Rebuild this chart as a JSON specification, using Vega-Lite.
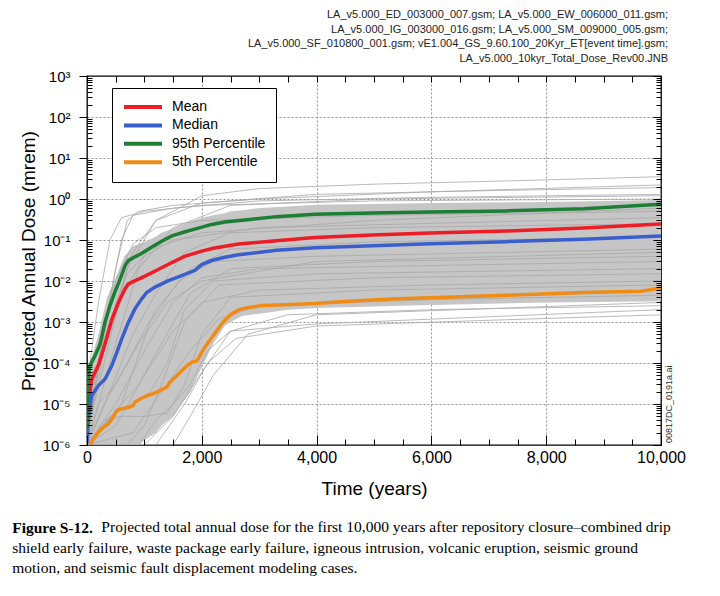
{
  "$schema": "https://vega.github.io/schema/vega-lite/v6.json",
  "background": "#ffffff",
  "padding": {"left": 12, "top": 8, "right": 10, "bottom": 5},
  "title": {
    "text": "Figure S-12.",
    "orient": "bottom",
    "anchor": "start",
    "frame": "bounds",
    "font": "Liberation Serif",
    "fontSize": 15.5,
    "fontWeight": "bold",
    "color": "#000",
    "offset": 22,
    "dx": -7,
    "subtitle": [
      "\u200b\u00a0\u00a0\u00a0\u00a0\u00a0\u00a0\u00a0\u00a0\u00a0\u00a0\u00a0\u00a0\u00a0\u00a0\u00a0\u00a0\u00a0\u00a0\u00a0\u00a0\u00a0\u00a0\u00a0Projected total annual dose for the first 10,000 years after repository closure–combined drip",
      "shield early failure, waste package early failure, igneous intrusion, volcanic eruption, seismic ground",
      "motion, and seismic fault displacement modeling cases."
    ],
    "subtitleFont": "Liberation Serif",
    "subtitleFontSize": 15.5,
    "subtitleColor": "#000",
    "subtitleFontWeight": "normal",
    "subtitleLineHeight": 20.5,
    "subtitlePadding": -16
  },
  "datasets": {
    "stats": [
      {"s":"Mean","t":0,"v":5.01e-6},{"s":"Mean","t":25,"v":1e-5},{"s":"Mean","t":80,"v":3.98e-5},{"s":"Mean","t":200,"v":8.91e-5},{"s":"Mean","t":310,"v":2.82e-4},{"s":"Mean","t":430,"v":1.12e-3},{"s":"Mean","t":550,"v":3.02e-3},{"s":"Mean","t":660,"v":6.31e-3},{"s":"Mean","t":720,"v":8.51e-3},{"s":"Mean","t":840,"v":1.02e-2},{"s":"Mean","t":1010,"v":1.32e-2},{"s":"Mean","t":1240,"v":1.91e-2},{"s":"Mean","t":1480,"v":2.82e-2},{"s":"Mean","t":1700,"v":3.98e-2},{"s":"Mean","t":2000,"v":5.37e-2},{"s":"Mean","t":2200,"v":6.31e-2},{"s":"Mean","t":2640,"v":7.94e-2},{"s":"Mean","t":3300,"v":9.55e-2},{"s":"Mean","t":3970,"v":0.1148},{"s":"Mean","t":4970,"v":0.1318},{"s":"Mean","t":5980,"v":0.1479},{"s":"Mean","t":7310,"v":0.166},{"s":"Mean","t":8650,"v":0.195},{"s":"Mean","t":10000,"v":0.2455},
      {"s":"Median","t":0,"v":1.12e-6},{"s":"Median","t":23,"v":4.27e-6},{"s":"Median","t":80,"v":1.585e-5},{"s":"Median","t":200,"v":2.82e-5},{"s":"Median","t":315,"v":4.07e-5},{"s":"Median","t":430,"v":8.51e-5},{"s":"Median","t":520,"v":1.82e-4},{"s":"Median","t":605,"v":3.89e-4},{"s":"Median","t":720,"v":9.77e-4},{"s":"Median","t":835,"v":2.09e-3},{"s":"Median","t":950,"v":3.63e-3},{"s":"Median","t":1040,"v":5.25e-3},{"s":"Median","t":1185,"v":7.08e-3},{"s":"Median","t":1420,"v":1.02e-2},{"s":"Median","t":1650,"v":1.35e-2},{"s":"Median","t":1880,"v":1.82e-2},{"s":"Median","t":2000,"v":2.51e-2},{"s":"Median","t":2170,"v":3.16e-2},{"s":"Median","t":2400,"v":3.8e-2},{"s":"Median","t":2640,"v":4.37e-2},{"s":"Median","t":3300,"v":5.62e-2},{"s":"Median","t":3970,"v":6.46e-2},{"s":"Median","t":4970,"v":7.24e-2},{"s":"Median","t":5980,"v":8.13e-2},{"s":"Median","t":7310,"v":9.12e-2},{"s":"Median","t":8650,"v":0.1047},{"s":"Median","t":10000,"v":0.1259},
      {"s":"95th Percentile","t":0,"v":2.51e-6},{"s":"95th Percentile","t":12,"v":7.94e-6},{"s":"95th Percentile","t":25,"v":3.98e-5},{"s":"95th Percentile","t":50,"v":8.51e-5},{"s":"95th Percentile","t":140,"v":1.51e-4},{"s":"95th Percentile","t":225,"v":2.82e-4},{"s":"95th Percentile","t":315,"v":1e-3},{"s":"95th Percentile","t":400,"v":2.51e-3},{"s":"95th Percentile","t":490,"v":5.62e-3},{"s":"95th Percentile","t":550,"v":8.91e-3},{"s":"95th Percentile","t":605,"v":1.41e-2},{"s":"95th Percentile","t":665,"v":2.4e-2},{"s":"95th Percentile","t":720,"v":3.16e-2},{"s":"95th Percentile","t":810,"v":3.72e-2},{"s":"95th Percentile","t":950,"v":4.68e-2},{"s":"95th Percentile","t":1130,"v":6.76e-2},{"s":"95th Percentile","t":1300,"v":9.33e-2},{"s":"95th Percentile","t":1480,"v":0.1259},{"s":"95th Percentile","t":1710,"v":0.1585},{"s":"95th Percentile","t":1940,"v":0.195},{"s":"95th Percentile","t":2170,"v":0.24},{"s":"95th Percentile","t":2400,"v":0.2754},{"s":"95th Percentile","t":2840,"v":0.3162},{"s":"95th Percentile","t":3300,"v":0.3715},{"s":"95th Percentile","t":3970,"v":0.4266},{"s":"95th Percentile","t":4970,"v":0.4571},{"s":"95th Percentile","t":5980,"v":0.4786},{"s":"95th Percentile","t":7310,"v":0.5129},{"s":"95th Percentile","t":8650,"v":0.5754},{"s":"95th Percentile","t":10000,"v":0.7413},
      {"s":"5th Percentile","t":50,"v":1e-6},{"s":"5th Percentile","t":110,"v":1.41e-6},{"s":"5th Percentile","t":200,"v":2.04e-6},{"s":"5th Percentile","t":285,"v":2.69e-6},{"s":"5th Percentile","t":370,"v":3.24e-6},{"s":"5th Percentile","t":460,"v":4.79e-6},{"s":"5th Percentile","t":517,"v":6.92e-6},{"s":"5th Percentile","t":605,"v":7.59e-6},{"s":"5th Percentile","t":720,"v":8.32e-6},{"s":"5th Percentile","t":805,"v":9.12e-6},{"s":"5th Percentile","t":835,"v":1.1e-5},{"s":"5th Percentile","t":925,"v":1.32e-5},{"s":"5th Percentile","t":1040,"v":1.585e-5},{"s":"5th Percentile","t":1130,"v":1.74e-5},{"s":"5th Percentile","t":1215,"v":1.95e-5},{"s":"5th Percentile","t":1330,"v":2.34e-5},{"s":"5th Percentile","t":1390,"v":2.57e-5},{"s":"5th Percentile","t":1445,"v":3.39e-5},{"s":"5th Percentile","t":1535,"v":4.47e-5},{"s":"5th Percentile","t":1650,"v":6.46e-5},{"s":"5th Percentile","t":1740,"v":8.51e-5},{"s":"5th Percentile","t":1825,"v":1.05e-4},{"s":"5th Percentile","t":1910,"v":1.12e-4},{"s":"5th Percentile","t":1970,"v":1.51e-4},{"s":"5th Percentile","t":2030,"v":2.19e-4},{"s":"5th Percentile","t":2110,"v":3.16e-4},{"s":"5th Percentile","t":2200,"v":4.68e-4},{"s":"5th Percentile","t":2290,"v":7.08e-4},{"s":"5th Percentile","t":2375,"v":1e-3},{"s":"5th Percentile","t":2500,"v":1.51e-3},{"s":"5th Percentile","t":2650,"v":2e-3},{"s":"5th Percentile","t":2800,"v":2.24e-3},{"s":"5th Percentile","t":3040,"v":2.51e-3},{"s":"5th Percentile","t":3440,"v":2.63e-3},{"s":"5th Percentile","t":3970,"v":2.82e-3},{"s":"5th Percentile","t":4640,"v":3.24e-3},{"s":"5th Percentile","t":5300,"v":3.63e-3},{"s":"5th Percentile","t":5980,"v":3.89e-3},{"s":"5th Percentile","t":7310,"v":4.47e-3},{"s":"5th Percentile","t":8650,"v":5.25e-3},{"s":"5th Percentile","t":9650,"v":5.62e-3},{"s":"5th Percentile","t":10000,"v":6.76e-3}
    ],
    "band": [
      {"t":0,"lo":1e-6,"hi":1e-5},{"t":50,"lo":1e-6,"hi":1e-4},{"t":200,"lo":1e-6,"hi":5e-4},{"t":350,"lo":1e-6,"hi":4e-3},{"t":500,"lo":1e-6,"hi":1.2e-2},{"t":650,"lo":1e-6,"hi":4e-2},{"t":800,"lo":1e-6,"hi":7e-2},{"t":900,"lo":1e-6,"hi":8e-2},{"t":1000,"lo":1.3e-6,"hi":9e-2},{"t":1200,"lo":2e-6,"hi":0.12},{"t":1300,"lo":3e-6,"hi":0.15},{"t":1500,"lo":5e-6,"hi":0.19},{"t":1600,"lo":8e-6,"hi":0.22},{"t":1800,"lo":2e-5,"hi":0.28},{"t":2000,"lo":8e-5,"hi":0.35},{"t":2200,"lo":3e-4,"hi":0.4},{"t":2400,"lo":8e-4,"hi":0.45},{"t":2500,"lo":1e-3,"hi":0.5},{"t":2700,"lo":1.4e-3,"hi":0.53},{"t":3000,"lo":1.6e-3,"hi":0.6},{"t":3500,"lo":2e-3,"hi":0.66},{"t":4000,"lo":2.2e-3,"hi":0.72},{"t":5000,"lo":2.4e-3,"hi":0.76},{"t":6000,"lo":2.6e-3,"hi":0.8},{"t":7000,"lo":2.8e-3,"hi":0.82},{"t":8000,"lo":3e-3,"hi":0.85},{"t":10000,"lo":3.2e-3,"hi":0.95}
    ],
    "runs": [
      {"id":"A","t":0,"v":1e-6},{"id":"A","t":150,"v":2e-5},{"id":"A","t":400,"v":1e-3},{"id":"A","t":800,"v":0.05},{"id":"A","t":1200,"v":0.3},{"id":"A","t":2000,"v":1.2},{"id":"A","t":3000,"v":1.8},{"id":"A","t":5000,"v":2.3},{"id":"A","t":7500,"v":2.8},{"id":"A","t":10000,"v":3.5},
      {"id":"B","t":0,"v":1e-6},{"id":"B","t":200,"v":1e-4},{"id":"B","t":500,"v":0.02},{"id":"B","t":700,"v":0.3},{"id":"B","t":900,"v":0.5},{"id":"B","t":1500,"v":0.7},{"id":"B","t":3000,"v":1.0},{"id":"B","t":6000,"v":1.5},{"id":"B","t":10000,"v":2.2},
      {"id":"C","t":0,"v":2e-6},{"id":"C","t":300,"v":1e-4},{"id":"C","t":700,"v":0.02},{"id":"C","t":1200,"v":0.3},{"id":"C","t":2000,"v":0.8},{"id":"C","t":4000,"v":1.3},{"id":"C","t":7000,"v":1.6},{"id":"C","t":10000,"v":1.9},
      {"id":"D","t":0,"v":1e-6},{"id":"D","t":250,"v":3e-4},{"id":"D","t":600,"v":0.1},{"id":"D","t":800,"v":0.4},{"id":"D","t":1500,"v":0.6},{"id":"D","t":3000,"v":0.9},{"id":"D","t":6000,"v":1.1},{"id":"D","t":10000,"v":1.3},
      {"id":"E","t":0,"v":1e-6},{"id":"E","t":400,"v":1e-4},{"id":"E","t":900,"v":0.02},{"id":"E","t":1500,"v":0.2},{"id":"E","t":2500,"v":0.7},{"id":"E","t":5000,"v":1.0},{"id":"E","t":10000,"v":1.2},
      {"id":"F","t":0,"v":1e-6},{"id":"F","t":600,"v":1e-5},{"id":"F","t":1100,"v":1e-3},{"id":"F","t":1600,"v":0.01},{"id":"F","t":2200,"v":0.03},{"id":"F","t":4000,"v":0.04},{"id":"F","t":10000,"v":0.06},
      {"id":"G","t":0,"v":1e-6},{"id":"G","t":1200,"v":1e-6},{"id":"G","t":1700,"v":1e-5},{"id":"G","t":2100,"v":1e-4},{"id":"G","t":2600,"v":4e-4},{"id":"G","t":4000,"v":8e-4},{"id":"G","t":7000,"v":1.1e-3},{"id":"G","t":10000,"v":1.5e-3},
      {"id":"H","t":0,"v":1e-6},{"id":"H","t":1000,"v":1e-6},{"id":"H","t":1500,"v":5e-6},{"id":"H","t":2000,"v":6e-5},{"id":"H","t":2500,"v":6e-4},{"id":"H","t":3500,"v":1.5e-3},{"id":"H","t":6000,"v":2e-3},{"id":"H","t":10000,"v":2.5e-3},
      {"id":"I","t":0,"v":1e-6},{"id":"I","t":800,"v":2e-6},{"id":"I","t":1300,"v":2e-5},{"id":"I","t":1800,"v":2e-4},{"id":"I","t":2300,"v":1.2e-3},{"id":"I","t":3000,"v":2.5e-3},{"id":"I","t":6000,"v":3.5e-3},{"id":"I","t":10000,"v":4.5e-3},
      {"id":"J","t":0,"v":1e-6},{"id":"J","t":500,"v":3e-6},{"id":"J","t":1000,"v":5e-5},{"id":"J","t":1500,"v":6e-4},{"id":"J","t":2000,"v":3e-3},{"id":"J","t":3000,"v":6e-3},{"id":"J","t":6000,"v":8e-3},{"id":"J","t":10000,"v":1e-2},
      {"id":"K","t":0,"v":1e-6},{"id":"K","t":1500,"v":1e-6},{"id":"K","t":1800,"v":5e-6},{"id":"K","t":2200,"v":5e-5},{"id":"K","t":2800,"v":5e-4},{"id":"K","t":4000,"v":1.5e-3},{"id":"K","t":10000,"v":3e-3},
      {"id":"L","t":0,"v":3e-6},{"id":"L","t":100,"v":3e-5},{"id":"L","t":300,"v":2e-4},{"id":"L","t":600,"v":4e-3},{"id":"L","t":1000,"v":0.04},{"id":"L","t":1500,"v":0.1},{"id":"L","t":3000,"v":0.2},{"id":"L","t":10000,"v":0.35},
      {"id":"M","t":0,"v":1e-6},{"id":"M","t":300,"v":1e-5},{"id":"M","t":700,"v":1e-4},{"id":"M","t":1200,"v":2e-3},{"id":"M","t":1800,"v":0.02},{"id":"M","t":2500,"v":0.06},{"id":"M","t":5000,"v":0.09},{"id":"M","t":10000,"v":0.12},
      {"id":"N","t":0,"v":1e-6},{"id":"N","t":200,"v":2e-6},{"id":"N","t":600,"v":1e-5},{"id":"N","t":900,"v":3e-5},{"id":"N","t":1300,"v":3e-4},{"id":"N","t":1800,"v":5e-3},{"id":"N","t":2500,"v":0.02},{"id":"N","t":5000,"v":0.03},{"id":"N","t":10000,"v":0.04},
      {"id":"O","t":0,"v":1e-6},{"id":"O","t":400,"v":5e-6},{"id":"O","t":800,"v":1e-5},{"id":"O","t":1100,"v":2e-5},{"id":"O","t":1400,"v":1e-4},{"id":"O","t":1700,"v":2e-3},{"id":"O","t":2200,"v":0.01},{"id":"O","t":4000,"v":0.015},{"id":"O","t":10000,"v":0.02},
      {"id":"P","t":0,"v":1e-6},{"id":"P","t":700,"v":1e-6},{"id":"P","t":1000,"v":3e-6},{"id":"P","t":1300,"v":3e-5},{"id":"P","t":1700,"v":1e-3},{"id":"P","t":2300,"v":8e-3},{"id":"P","t":5000,"v":0.012},{"id":"P","t":10000,"v":0.015},
      {"id":"Q","t":0,"v":5e-6},{"id":"Q","t":50,"v":1e-4},{"id":"Q","t":200,"v":3e-3},{"id":"Q","t":400,"v":0.1},{"id":"Q","t":600,"v":0.35},{"id":"Q","t":1000,"v":0.5},{"id":"Q","t":2000,"v":0.7},{"id":"Q","t":5000,"v":0.9},{"id":"Q","t":10000,"v":1.0},
      {"id":"R","t":0,"v":1e-6},{"id":"R","t":100,"v":1e-5},{"id":"R","t":300,"v":5e-4},{"id":"R","t":500,"v":0.01},{"id":"R","t":800,"v":0.08},{"id":"R","t":1200,"v":0.2},{"id":"R","t":2000,"v":0.3},{"id":"R","t":5000,"v":0.4},{"id":"R","t":10000,"v":0.5},
      {"id":"S","t":0,"v":1e-6},{"id":"S","t":400,"v":2e-5},{"id":"S","t":800,"v":5e-4},{"id":"S","t":1200,"v":5e-3},{"id":"S","t":1700,"v":0.05},{"id":"S","t":2500,"v":0.15},{"id":"S","t":5000,"v":0.2},{"id":"S","t":10000,"v":0.25},
      {"id":"T","t":0,"v":1e-6},{"id":"T","t":900,"v":1e-6},{"id":"T","t":1200,"v":4e-6},{"id":"T","t":1500,"v":1e-5},{"id":"T","t":1800,"v":3e-5},{"id":"T","t":2100,"v":2e-4},{"id":"T","t":2500,"v":6e-4},{"id":"T","t":4000,"v":9e-4},{"id":"T","t":10000,"v":2e-3},
      {"id":"U","t":0,"v":1e-6},{"id":"U","t":300,"v":4e-6},{"id":"U","t":600,"v":5e-6},{"id":"U","t":1000,"v":5e-6},{"id":"U","t":1400,"v":6e-6},{"id":"U","t":1700,"v":3e-5},{"id":"U","t":2000,"v":5e-4},{"id":"U","t":2500,"v":4e-3},{"id":"U","t":5000,"v":6e-3},{"id":"U","t":10000,"v":8e-3},
      {"id":"V","t":0,"v":1e-6},{"id":"V","t":200,"v":1e-5},{"id":"V","t":500,"v":3e-5},{"id":"V","t":900,"v":3e-4},{"id":"V","t":1400,"v":3e-3},{"id":"V","t":2000,"v":0.01},{"id":"V","t":4000,"v":0.03},{"id":"V","t":10000,"v":0.05},
      {"id":"W","t":0,"v":2e-6},{"id":"W","t":150,"v":5e-5},{"id":"W","t":400,"v":1e-3},{"id":"W","t":700,"v":0.015},{"id":"W","t":1100,"v":0.06},{"id":"W","t":2000,"v":0.15},{"id":"W","t":5000,"v":0.3},{"id":"W","t":10000,"v":0.6},
      {"id":"X","t":0,"v":1e-6},{"id":"X","t":500,"v":1e-5},{"id":"X","t":1000,"v":2e-4},{"id":"X","t":1500,"v":3e-3},{"id":"X","t":2000,"v":0.012},{"id":"X","t":3000,"v":0.02},{"id":"X","t":10000,"v":0.03}
    ],
    "tag": [{"t":10000,"v":1e-6,"label":"00817DC_0191a.ai"}]
  },
  "vconcat": [
    {
      "width": 574,
      "height": 369,
      "title": {
        "text": [
          "LA_v5.000_ED_003000_007.gsm; LA_v5.000_EW_006000_011.gsm;",
          "LA_v5.000_IG_003000_016.gsm; LA_v5.000_SM_009000_005.gsm;",
          "LA_v5.000_SF_010800_001.gsm; vE1.004_GS_9.60.100_20Kyr_ET[event time].gsm;",
          "LA_v5.000_10kyr_Total_Dose_Rev00.JNB"
        ],
        "anchor": "end",
        "frame": "group",
        "font": "Liberation Sans",
        "fontSize": 11,
        "fontWeight": "normal",
        "color": "#222",
        "lineHeight": 14.6,
        "offset": 5,
        "dx": 7
      },
      "resolve": {"axis": {"x": "independent", "y": "independent"}},
      "layer": [
        {
          "data": {"name": "band"},
          "mark": {"type": "area", "color": "#c6c6c6", "clip": true},
          "encoding": {
            "x": {"field": "t", "type": "quantitative", "scale": {"domain": [0, 10000], "nice": false},
              "axis": {"orient": "bottom", "values": [2000, 4000, 6000, 8000], "grid": true, "gridColor": "#777", "gridDash": [2, 2], "gridWidth": 0.8, "domain": false, "ticks": false, "labels": false, "title": null, "maxExtent": 0, "minExtent": 0, "zindex": 0}},
            "y": {"field": "lo", "type": "quantitative", "scale": {"type": "log", "domain": [1e-6, 1000], "nice": false},
              "axis": {"orient": "left", "values": [1e-5, 1e-4, 1e-3, 1e-2, 0.1, 1, 10, 100], "grid": true, "gridColor": "#777", "gridDash": [2, 2], "gridWidth": 0.8, "domain": false, "ticks": false, "labels": false, "title": null, "maxExtent": 0, "minExtent": 0, "zindex": 0}},
            "y2": {"field": "hi"}
          }
        },
        {
          "data": {"name": "runs"},
          "mark": {"type": "line", "color": "#a8a8a8", "strokeWidth": 0.8, "clip": true},
          "encoding": {
            "x": {"field": "t", "type": "quantitative",
              "axis": {"orient": "bottom", "values": [0,500,1000,1500,2000,2500,3000,3500,4000,4500,5000,5500,6000,6500,7000,7500,8000,8500,9000,9500,10000],
                "grid": false, "domain": false,
                "labelExpr": "datum.value % 2000 == 0 ? format(datum.value, ',') : ''",
                "tickSize": {"condition": {"test": "datum.value % 2000 == 0", "value": -10}, "value": -6},
                "tickColor": "#000", "tickWidth": 1,
                "labelFont": "Liberation Sans", "labelFontSize": 16, "labelColor": "#000", "labelPadding": 14,
                "labelFlush": false, "labelOverlap": false, "labelBound": false,
                "title": "Time (years)", "titleFont": "Liberation Sans", "titleFontSize": 19, "titleFontWeight": "normal", "titleColor": "#000", "titlePadding": 10,
                "zindex": 1}},
            "y": {"field": "v", "type": "quantitative",
              "axis": {"orient": "left",
                "values": [1e-6,2e-6,3e-6,4e-6,5e-6,6e-6,7e-6,8e-6,9e-6,1e-5,2e-5,3e-5,4e-5,5e-5,6e-5,7e-5,8e-5,9e-5,1e-4,2e-4,3e-4,4e-4,5e-4,6e-4,7e-4,8e-4,9e-4,1e-3,2e-3,3e-3,4e-3,5e-3,6e-3,7e-3,8e-3,9e-3,0.01,0.02,0.03,0.04,0.05,0.06,0.07,0.08,0.09,0.1,0.2,0.3,0.4,0.5,0.6,0.7,0.8,0.9,1,2,3,4,5,6,7,8,9,10,20,30,40,50,60,70,80,90,100,200,300,400,500,600,700,800,900,1000],
                "grid": false, "domain": false,
                "labelExpr": "abs(log(datum.value)/LN10 - round(log(datum.value)/LN10)) < 0.01 ? '10' + ['⁻⁶','⁻⁵','⁻⁴','⁻³','⁻²','⁻¹','⁰','¹','²','³'][round(log(datum.value)/LN10)+6] : ''",
                "tickSize": {"condition": {"test": "abs(log(datum.value)/LN10 - round(log(datum.value)/LN10)) < 0.01", "value": 8}, "value": -5},
                "tickColor": "#000", "tickWidth": 1,
                "labelFont": "Liberation Sans", "labelFontSize": 15, "labelColor": "#000", "labelPadding": 9,
                "labelOverlap": false, "labelBound": false, "labelFlush": false,
                "title": "Projected Annual Dose (mrem)", "titleFont": "Liberation Sans", "titleFontSize": 19, "titleFontWeight": "normal", "titleColor": "#000", "titlePadding": 3,
                "zindex": 1}},
            "detail": {"field": "id"}
          }
        },
        {
          "data": {"name": "stats"},
          "mark": {"type": "line", "strokeWidth": 3.5, "clip": true},
          "encoding": {
            "x": {"field": "t", "type": "quantitative",
              "axis": {"orient": "top", "values": [0,500,1000,1500,2000,2500,3000,3500,4000,4500,5000,5500,6000,6500,7000,7500,8000,8500,9000,9500,10000],
                "labels": false, "domain": false, "grid": false, "title": null,
                "tickSize": -6, "tickColor": "#000", "tickWidth": 1, "zindex": 1}},
            "y": {"field": "v", "type": "quantitative",
              "axis": {"orient": "right",
                "values": [1e-6,2e-6,3e-6,4e-6,5e-6,6e-6,7e-6,8e-6,9e-6,1e-5,2e-5,3e-5,4e-5,5e-5,6e-5,7e-5,8e-5,9e-5,1e-4,2e-4,3e-4,4e-4,5e-4,6e-4,7e-4,8e-4,9e-4,1e-3,2e-3,3e-3,4e-3,5e-3,6e-3,7e-3,8e-3,9e-3,0.01,0.02,0.03,0.04,0.05,0.06,0.07,0.08,0.09,0.1,0.2,0.3,0.4,0.5,0.6,0.7,0.8,0.9,1,2,3,4,5,6,7,8,9,10,20,30,40,50,60,70,80,90,100,200,300,400,500,600,700,800,900,1000],
                "labels": false, "domain": false, "grid": false, "title": null,
                "tickSize": {"condition": {"test": "abs(log(datum.value)/LN10 - round(log(datum.value)/LN10)) < 0.01", "value": -8}, "value": -5},
                "tickColor": "#000", "tickWidth": 1, "zindex": 1}},
            "color": {"field": "s", "type": "nominal",
              "scale": {"domain": ["Mean", "Median", "95th Percentile", "5th Percentile"], "range": ["#ee1c25", "#3a5fcd", "#1d7f35", "#f08c14"]},
              "legend": {"orient": "none", "legendX": 25, "legendY": 12, "title": null, "symbolType": "stroke", "symbolSize": 1444, "symbolStrokeWidth": 4, "clipHeight": 18, "rowPadding": 0.4, "labelFont": "Liberation Sans", "labelFontSize": 14, "labelColor": "#000", "labelOffset": 8, "labelLimit": 300, "padding": 10, "strokeColor": "#000", "fillColor": "#fff"}}
          }
        },
        {
          "data": {"name": "tag"},
          "mark": {"type": "text", "angle": 270, "align": "left", "baseline": "top", "dx": 2, "dy": 4, "font": "Liberation Sans", "fontSize": 9, "color": "#333"},
          "encoding": {
            "x": {"field": "t", "type": "quantitative", "axis": null},
            "y": {"field": "v", "type": "quantitative", "axis": null},
            "text": {"field": "label"}
          }
        }
      ]
    }
  ],
  "config": {
    "view": {"stroke": "#000", "strokeWidth": 1.3},
    "font": "Liberation Sans"
  }
}
